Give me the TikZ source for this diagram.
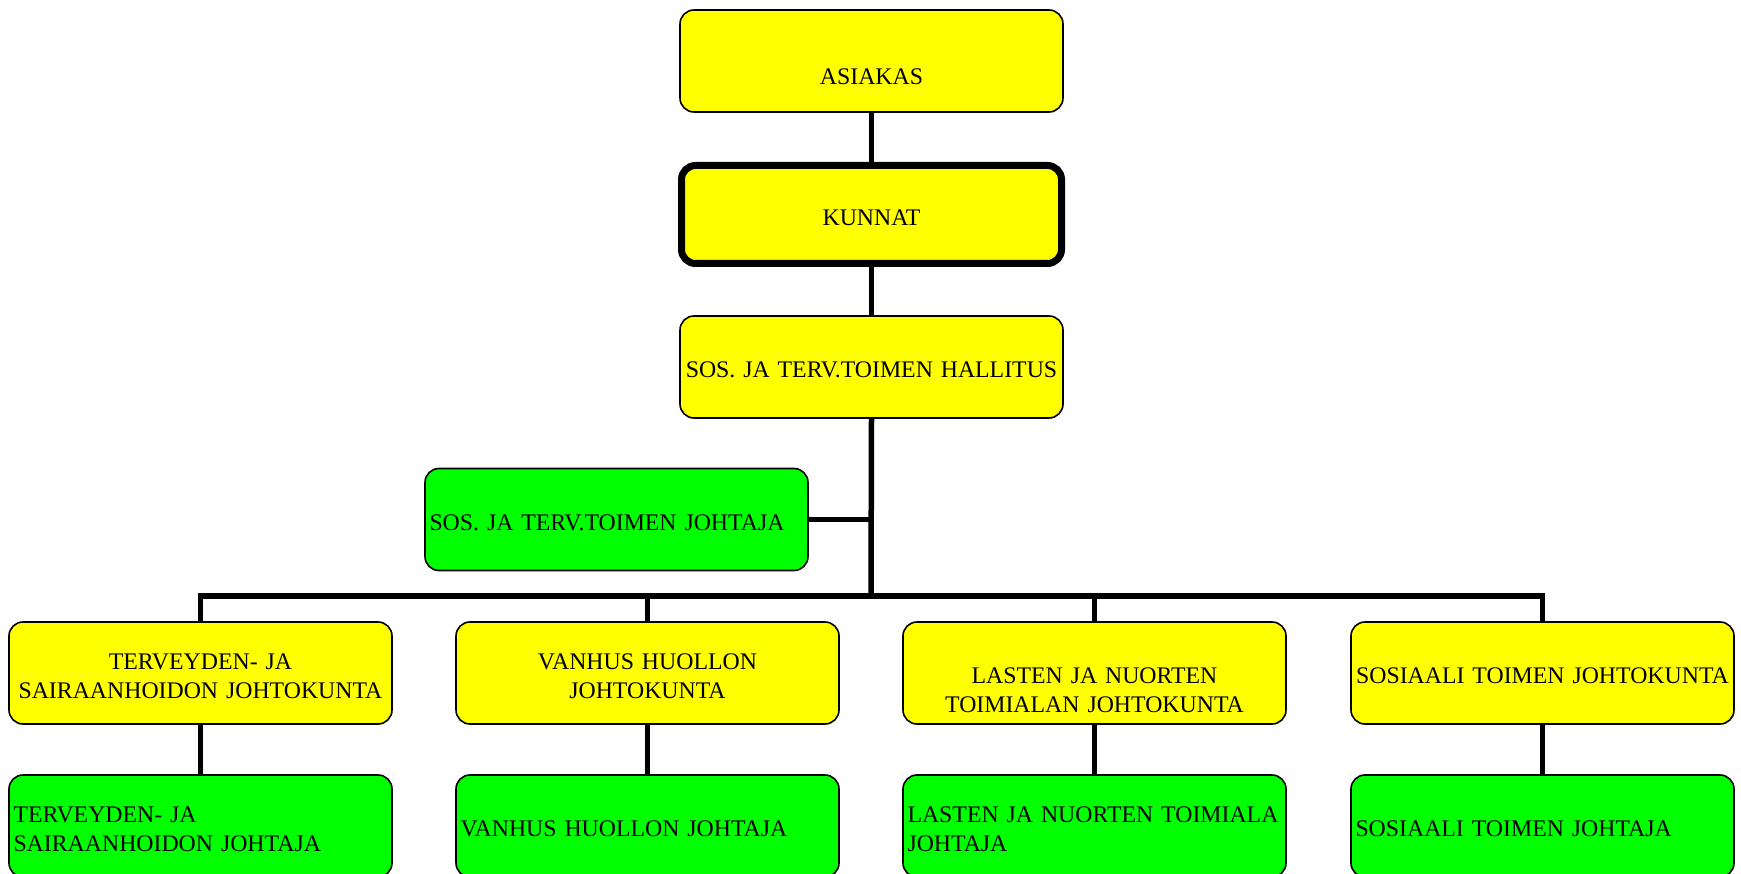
\documentclass[tikz,border=0pt]{standalone}
\usepackage{fontspec}
\setmainfont{Liberation Serif}
\definecolor{boxyellow}{HTML}{FFFF00}
\definecolor{boxgreen}{HTML}{00FF00}
\newcommand\mytopstrut{\rule{0pt}{22pt}}
\begin{document}
\begin{tikzpicture}[x=1pt,y=-1pt,
  every node/.style={font=\fontsize{23.8pt}{28.3pt}\selectfont},
  orgbox/.style={draw=black, line width=1.6pt, rounded corners=14pt,
    minimum width=383pt, minimum height=102pt, inner xsep=4.5pt, inner ysep=0pt,
    text width=374pt},
  yel/.style={orgbox, fill=boxyellow, align=center},
  grn/.style={orgbox, fill=boxgreen, align=left},
  thickbox/.style={yel, line width=7pt, minimum width=380pt, minimum height=98pt, text width=371pt},
  conn/.style={draw=black, line width=5.5pt}
]
\useasboundingbox (0,0) rectangle (1741,874);
\clip (0,0) rectangle (1741,874);

% top chain
\node[yel] (asiakas) at (871.5,61) {\mbox{}\\[19pt]ASIAKAS};
\node[thickbox] (kunnat) at (871.5,214.5) {\mytopstrut KUNNAT};
\node[yel] (hallitus) at (871.5,367) {\mytopstrut SOS. JA TERV.TOIMEN HALLITUS};
\node[grn] (johtaja) at (616.5,519.5) {\mytopstrut SOS. JA TERV.TOIMEN JOHTAJA};

% boards
\node[yel] (c1) at (200.5,673) {\mytopstrut TERVEYDEN- JA\\SAIRAANHOIDON JOHTOKUNTA};
\node[yel] (c2) at (647.5,673) {\mytopstrut VANHUS HUOLLON\\JOHTOKUNTA};
\node[yel] (c3) at (1094.5,673) {\mbox{}\\[22pt]LASTEN JA NUORTEN\\TOIMIALAN JOHTOKUNTA};
\node[yel] (c4) at (1542.5,673) {\mytopstrut SOSIAALI TOIMEN JOHTOKUNTA};

% directors
\node[grn] (d1) at (200.5,826) {\mytopstrut TERVEYDEN- JA\\SAIRAANHOIDON JOHTAJA};
\node[grn] (d2) at (647.5,826) {\mytopstrut VANHUS HUOLLON JOHTAJA};
\node[grn] (d3) at (1094.5,826) {\mytopstrut LASTEN JA NUORTEN TOIMIALA\\JOHTAJA};
\node[grn] (d4) at (1542.5,826) {\mytopstrut SOSIAALI TOIMEN JOHTAJA};

\coordinate (bus) at (871,596);

% connectors
\draw[conn] (asiakas.south) -- (kunnat.north);
\draw[conn] (kunnat.south) -- (hallitus.north);
\draw[conn] (hallitus.south) -- (bus);
\draw[conn] (johtaja.east) -- (johtaja.east -| bus);
\draw[conn] (c1.north) |- (bus) -| (c4.north);
\draw[conn] (c2.north) -- (c2.north |- bus);
\draw[conn] (c3.north) -- (c3.north |- bus);
\draw[conn] (c1.south) -- (d1.north);
\draw[conn] (c2.south) -- (d2.north);
\draw[conn] (c3.south) -- (d3.north);
\draw[conn] (c4.south) -- (d4.north);
\end{tikzpicture}
\end{document}
